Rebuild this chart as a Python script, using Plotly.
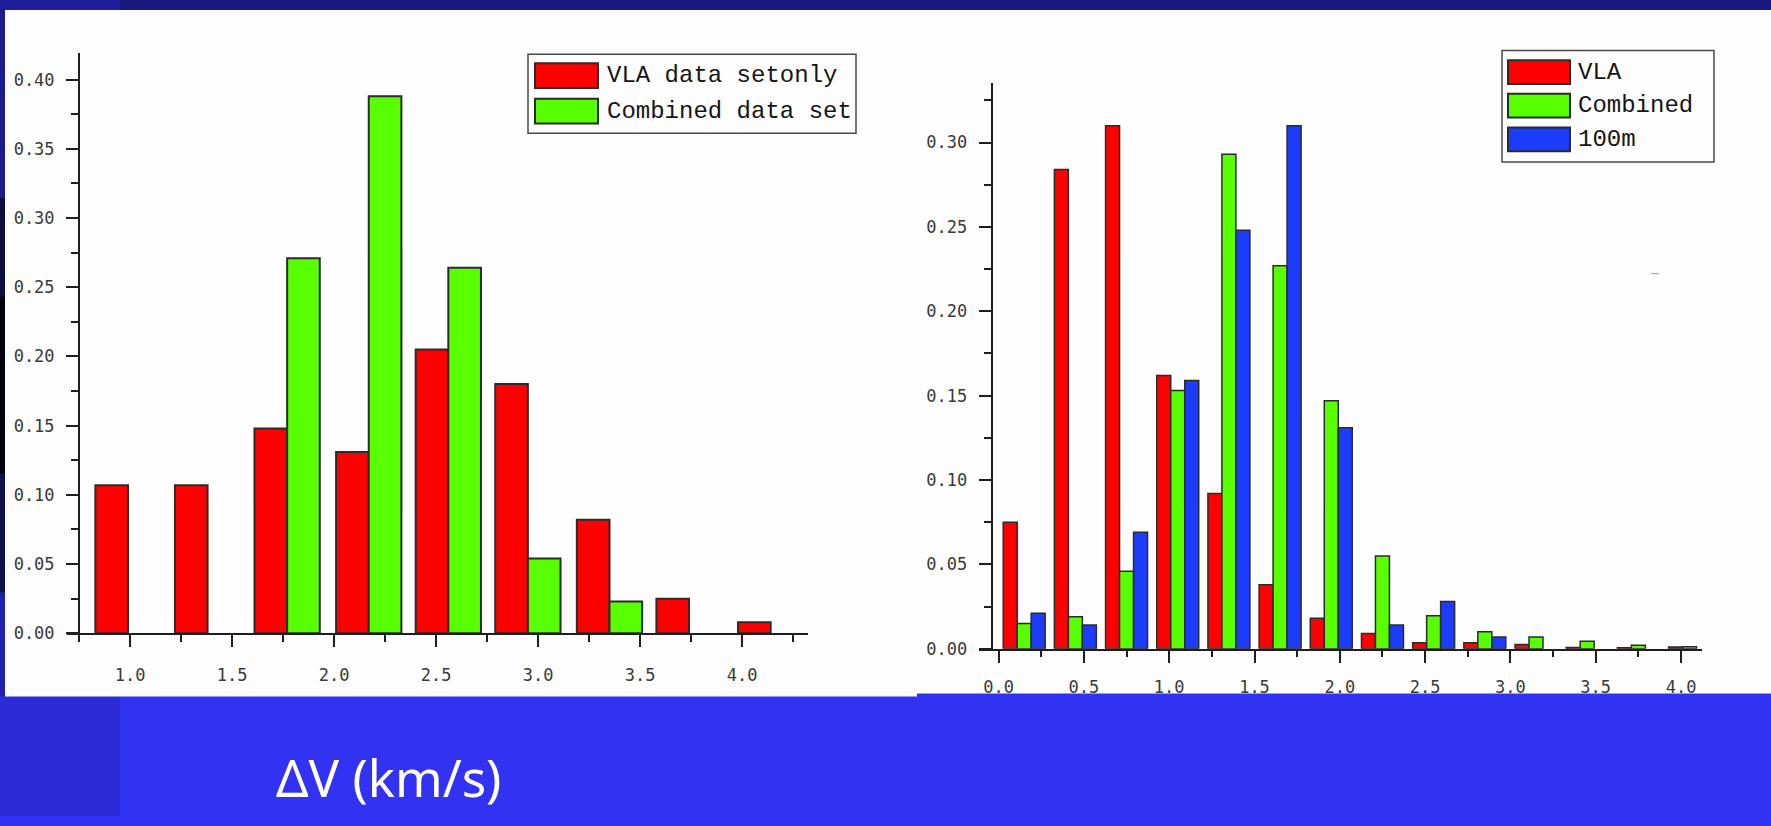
import plotly.graph_objects as go

# ---------------- data ----------------
left_bins = [0.99, 1.38, 1.77, 2.17, 2.56, 2.95, 3.35, 3.74, 4.14]
left_vla = [0.107, 0.107, 0.148, 0.131, 0.205, 0.180, 0.082, 0.025, 0.008]
left_combined = [0.0, 0.0, 0.271, 0.388, 0.264, 0.054, 0.023, 0.0, 0.0]
left_names = ["VLA data setonly", "Combined data set"]

right_bins = [0.15, 0.45, 0.75, 1.05, 1.35, 1.65, 1.95, 2.25, 2.55, 2.85, 3.15, 3.45, 3.75, 4.05]
right_vla = [0.075, 0.284, 0.310, 0.162, 0.092, 0.038, 0.018, 0.009, 0.0035, 0.0035, 0.0025, 0.0007, 0.0006, 0.0010]
right_combined = [0.015, 0.019, 0.046, 0.153, 0.293, 0.227, 0.147, 0.055, 0.0195, 0.010, 0.007, 0.0044, 0.0021, 0.0012]
right_100m = [0.021, 0.014, 0.069, 0.159, 0.248, 0.310, 0.131, 0.014, 0.028, 0.007, 0.0, 0.0, 0.0, 0.0]
right_names = ["VLA", "Combined", "100m"]

x_title = "ΔV (km/s)"

# ---------------- style ----------------
W, H = 1771, 826
RED, GREEN, BLUE = "#ff0000", "#58ff00", "#1c3cfc"
EDGE = "#2b2b2b"
AXC = "#1e1e1e"
TICKFONT = dict(family="DejaVu Sans Mono", size=17, color="#3a3a3a")
LEGFONT = dict(family="Liberation Mono", size=24, color="#151515")


def px(x):
    return x / W


def py(y):
    return 1 - y / H


def present(vals):
    # empty bins are simply not drawn
    return [v if v > 0 else None for v in vals]


fig = go.Figure()

# left chart bars
lw = 0.16
for vals, col, off, name in [(left_vla, RED, -lw, left_names[0]),
                             (left_combined, GREEN, 0.0, left_names[1])]:
    fig.add_trace(go.Bar(x=left_bins, y=present(vals), width=lw, offset=off, name=name,
                         marker=dict(color=col, line=dict(color=EDGE, width=2)),
                         xaxis="x", yaxis="y", showlegend=False))

# right chart bars
rw = 0.082
for vals, col, off, name in [(right_vla, RED, -1.5 * rw, right_names[0]),
                             (right_combined, GREEN, -0.5 * rw, right_names[1]),
                             (right_100m, BLUE, 0.5 * rw, right_names[2])]:
    fig.add_trace(go.Bar(x=right_bins, y=present(vals), width=rw, offset=off, name=name,
                         marker=dict(color=col, line=dict(color=EDGE, width=1.5)),
                         xaxis="x2", yaxis="y2", showlegend=False))

common_axis = dict(showgrid=False, zeroline=False, showline=True, linecolor=AXC,
                   linewidth=2, ticks="outside", ticklen=12, tickwidth=2,
                   tickcolor=AXC, tickfont=TICKFONT)

# pixel geometry of the two plot areas
L_x0, L_x1, L_yax = 67, 808, 79
L_y0, L_y1 = 641, 54
R_x0, R_x1, R_yax = 979, 1702, 991.7
R_y0, R_y1 = 656.7, 84

fig.update_layout(
    xaxis=dict(domain=[px(L_x0), px(L_x1)], range=[0.691, 4.323], anchor="y",
               tick0=0, dtick=0.5, tickformat=".1f", ticklabelstandoff=13,
               minor=dict(dtick=0.25, tick0=0, ticks="outside", ticklen=7,
                          tickwidth=2, tickcolor=AXC, showgrid=False),
               **common_axis),
    yaxis=dict(domain=[py(L_y0), py(L_y1)], range=[0, 0.419], anchor="free",
               position=px(L_yax), tick0=0, dtick=0.05, tickformat=".2f",
               ticklabelstandoff=8,
               minor=dict(dtick=0.025, tick0=0, ticks="outside", ticklen=7,
                          tickwidth=2, tickcolor=AXC, showgrid=False),
               **common_axis),
    xaxis2=dict(domain=[px(R_x0), px(R_x1)], range=[-0.1149, 4.123], anchor="y2",
                tick0=0, dtick=0.5, tickformat=".1f", ticklabelstandoff=10,
                minor=dict(dtick=0.25, tick0=0, ticks="outside", ticklen=6,
                           tickwidth=2, tickcolor=AXC, showgrid=False),
                **common_axis),
    yaxis2=dict(domain=[py(R_y0), py(R_y1)], range=[0, 0.3353], anchor="free",
                position=px(R_yax), tick0=0, dtick=0.05, tickformat=".2f",
                ticklabelstandoff=8,
                minor=dict(dtick=0.025, tick0=0, ticks="outside", ticklen=7,
                           tickwidth=2, tickcolor=AXC, showgrid=False),
                **common_axis),
    barmode="overlay",
    width=W, height=H,
    margin=dict(l=0, r=0, t=0, b=0),
    paper_bgcolor="#3232f2",
    plot_bgcolor="rgba(0,0,0,0)",
)

shapes = []


def rect(x0, y0, x1, y1, fill, line=None, lwid=0, layer="below"):
    shapes.append(dict(type="rect", xref="paper", yref="paper",
                       x0=px(x0), x1=px(x1), y0=py(y1), y1=py(y0),
                       fillcolor=fill, layer=layer,
                       line=dict(color=line or fill, width=lwid)))


# slide background decorations
rect(0, 705, 120, H, "#2c2cd6")
rect(0, 0, W, 10, "#1a1a7e")
rect(0, 0, 120, 10, "#1e1e98")
rect(0, 10, 5, 200, "#1c1c8c")
rect(0, 200, 5, 300, "#0e0e40")
rect(0, 300, 5, 480, "#030310")
rect(0, 480, 5, 600, "#10104a")
rect(0, 600, 5, 705, "#2020a8")
# white chart panels
rect(5, 10, 917, 705, "#fcfdfc")
rect(917, 10, W, 702, "#fcfdfc")
# tiny stray mark on right panel
shapes.append(dict(type="line", xref="paper", yref="paper", x0=px(1651), x1=px(1659),
                   y0=py(277), y1=py(277), line=dict(color="#a0a0a0", width=1), layer="below"))

annotations = []

# left legend
rect(528, 55, 856, 135, "rgba(0,0,0,0)", line="#4a4a4a", lwid=1.5, layer="above")
for i, (name, col) in enumerate(zip(left_names, [RED, GREEN])):
    top = 64 + i * 36
    rect(535, top, 598, top + 25, col, line=EDGE, lwid=2, layer="above")
    annotations.append(dict(xref="paper", yref="paper", x=px(605), y=py(top + 12.5),
                            xanchor="left", yanchor="middle", text=name,
                            showarrow=False, font=LEGFONT))

# right legend
rect(1502, 51, 1714, 164, "rgba(0,0,0,0)", line="#4a4a4a", lwid=1.5, layer="above")
for i, (name, col) in enumerate(zip(right_names, [RED, GREEN, BLUE])):
    top = 61 + i * 34
    rect(1508, top, 1570, top + 24, col, line=EDGE, lwid=2, layer="above")
    annotations.append(dict(xref="paper", yref="paper", x=px(1576), y=py(top + 12),
                            xanchor="left", yanchor="middle", text=name,
                            showarrow=False, font=LEGFONT))

# x title on the slide
annotations.append(dict(xref="paper", yref="paper", x=px(274), y=py(824),
                        xanchor="left", yanchor="bottom", text=x_title,
                        showarrow=False,
                        font=dict(family="Noto Sans", size=51, color="#ffffff")))

fig.update_layout(shapes=shapes, annotations=annotations)

fig.write_html("out.html", config={"displayModeBar": False},
               post_script="document.body.style.margin='0px';document.body.style.overflow='hidden';")
